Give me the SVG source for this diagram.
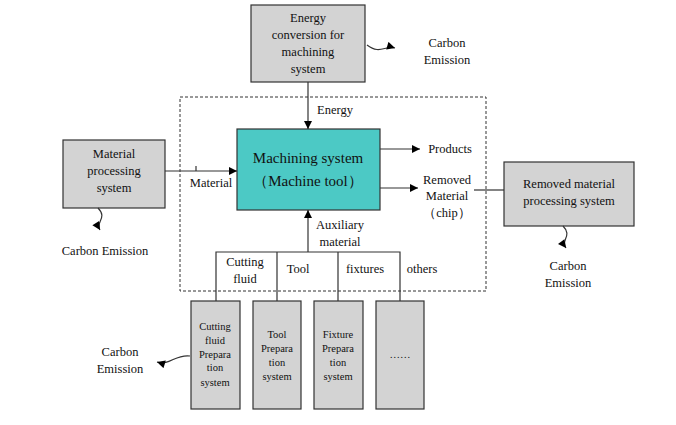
<svg xmlns="http://www.w3.org/2000/svg" width="676" height="425" viewBox="0 0 676 425">
<defs><marker id="a" viewBox="0 0 10 10" refX="10" refY="5" markerWidth="10" markerHeight="8" orient="auto" markerUnits="userSpaceOnUse"><path d="M0,0L10,5L0,10z" fill="#000"/></marker></defs>
<style>text{font-family:"Liberation Serif",serif;font-size:12.5px;fill:#111;text-anchor:middle}.g{fill:#d3d3d3;stroke:#333;stroke-width:1.2}.l{stroke:#333;stroke-width:1.2;fill:none}.s{font-size:10.5px}</style>
<rect width="676" height="425" fill="#fff"/>
<rect x="180" y="97" width="306" height="194" fill="none" stroke="#333" stroke-dasharray="3,2"/>
<g id="energy"><rect class="g" x="251" y="5" width="114" height="77"/><text x="308" y="22">Energy</text><text x="308" y="39">conversion for</text><text x="308" y="56">machining</text><text x="308" y="73">system</text></g>
<g id="machining"><rect x="237" y="129" width="143" height="81" fill="#4cc9c5" stroke="#333" stroke-width="1.2"/><text x="308" y="163" style="font-size:15px">Machining system</text><text x="308" y="186" style="font-size:15px">（Machine tool）</text></g>
<g id="material"><rect class="g" x="63" y="140" width="102" height="68"/><text x="114" y="158">Material</text><text x="114" y="175">processing</text><text x="114" y="192">system</text></g>
<g id="removed"><rect class="g" x="504" y="162" width="130" height="64"/><text x="569" y="188">Removed material</text><text x="569" y="205">processing system</text></g>
<g id="cf"><rect class="g" x="191" y="301" width="49" height="108"/><text class="s" x="215" y="330">Cutting</text><text class="s" x="215" y="344">fluid</text><text class="s" x="215" y="358">Prepara</text><text class="s" x="215" y="371">tion</text><text class="s" x="215" y="386">system</text></g>
<g id="tp"><rect class="g" x="253" y="301" width="48" height="108"/><text class="s" x="277" y="338">Tool</text><text class="s" x="277" y="352">Prepara</text><text class="s" x="277" y="366">tion</text><text class="s" x="277" y="380">system</text></g>
<g id="fp"><rect class="g" x="314" y="301" width="49" height="108"/><text class="s" x="338" y="338">Fixture</text><text class="s" x="338" y="352">Prepara</text><text class="s" x="338" y="366">tion</text><text class="s" x="338" y="380">system</text></g>
<g id="ot"><rect class="g" x="376" y="301" width="48" height="108"/><text class="s" x="400" y="358">……</text></g>
<g id="connectors">
<path class="l" d="M308,82V129" marker-end="url(#a)"/>
<path class="l" d="M165,171H237" marker-end="url(#a)"/>
<path class="l" d="M196,166V171"/>
<path class="l" d="M380,149H420" marker-end="url(#a)"/>
<path class="l" d="M380,188H418" marker-end="url(#a)"/>
<path class="l" d="M474,190H504"/>
<path class="l" d="M308,252V210" marker-end="url(#a)"/>
<path class="l" d="M216,301V252H400V301M277,252V301M338,252V301"/>
<path class="l" d="M367,45C380,55 385,45 395,48" marker-end="url(#a)"/>
<path class="l" d="M98,208C108,218 95,222 100,230" marker-end="url(#a)"/>
<path class="l" d="M563,226C573,236 560,240 566,248" marker-end="url(#a)"/>
<path class="l" d="M190,356C175,354 170,366 157,362" marker-end="url(#a)"/>
</g>
<text x="447" y="47">Carbon</text><text x="447" y="64">Emission</text>
<text x="335" y="114">Energy</text>
<text x="211" y="187">Material</text>
<text x="450" y="153">Products</text>
<text x="447" y="184">Removed</text><text x="447" y="200">Material</text><text x="447" y="217">（chip）</text>
<text x="340" y="229">Auxiliary</text><text x="340" y="246">material</text>
<text x="245" y="266">Cutting</text><text x="245" y="283">fluid</text>
<text x="298" y="273">Tool</text><text x="365" y="273">fixtures</text><text x="422" y="273">others</text>
<text x="105" y="255">Carbon Emission</text>
<text x="568" y="270">Carbon</text><text x="568" y="287">Emission</text>
<text x="120" y="356">Carbon</text><text x="120" y="373">Emission</text>
</svg>
